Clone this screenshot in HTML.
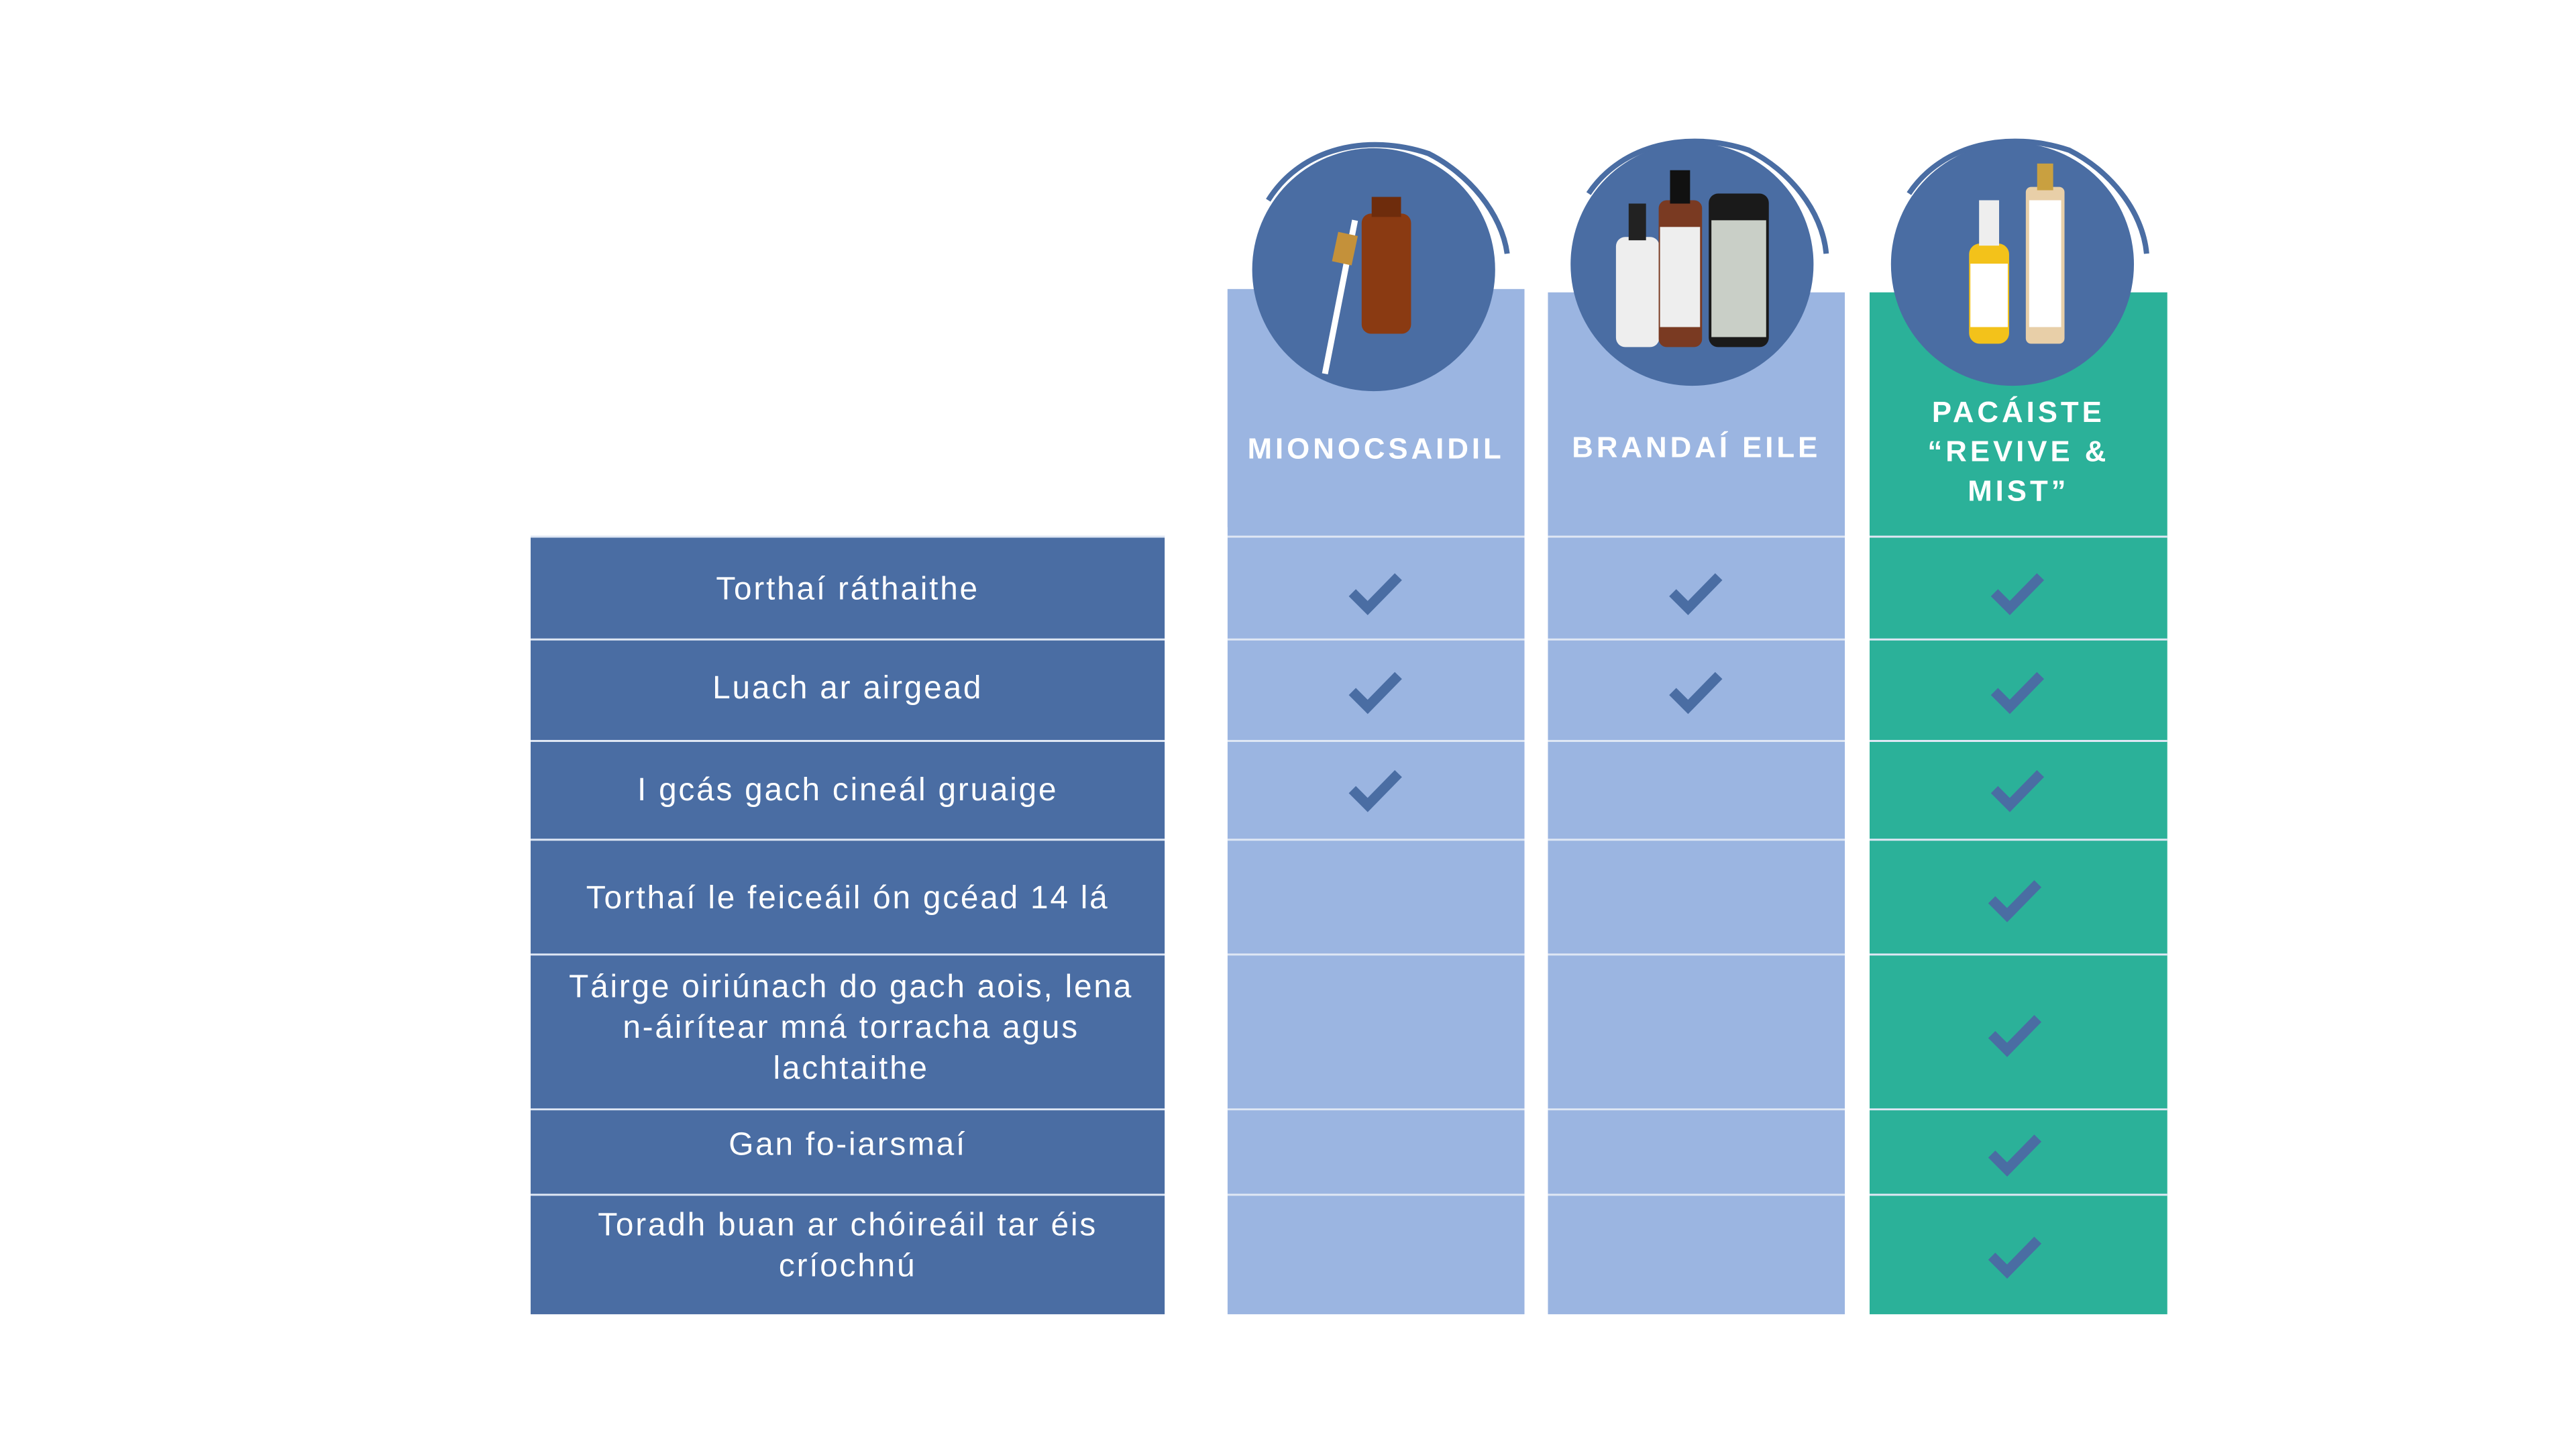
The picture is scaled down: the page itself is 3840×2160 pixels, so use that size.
<!DOCTYPE html>
<html><head><meta charset="utf-8"><style>
html,body{margin:0;padding:0;width:3840px;height:2160px;background:#fff;overflow:hidden;position:relative;font-family:"Liberation Sans",sans-serif}
#w{position:absolute;left:0;top:0;width:3840px;height:2160px;transform:scale(0.995);transform-origin:0 0}
.a{position:absolute}
.t{position:absolute;color:#fff;text-align:center;font-size:48px;letter-spacing:2.8px;line-height:61px;white-space:nowrap}
.h{position:absolute;color:#fff;text-align:center;font-size:44px;font-weight:bold;letter-spacing:5px;line-height:59px;white-space:nowrap}
</style></head><body><div id="w">
<div class="a" style="left:795px;top:805px;width:950px;height:1164px;background:#4a6da3"></div>
<div class="a" style="left:1839px;top:433px;width:445px;height:1536px;background:#9bb5e1"></div>
<div class="a" style="left:2319px;top:438px;width:445px;height:1531px;background:#9bb5e1"></div>
<div class="a" style="left:2801px;top:438px;width:446px;height:1531px;background:#2bb199"></div>
<svg class="a" style="left:0;top:0" width="3840" height="2160">
<g stroke="#dfe7f4" stroke-width="3">
<line x1="795" y1="804" x2="3247" y2="804"/>
<line x1="795" y1="958" x2="3247" y2="958"/>
<line x1="795" y1="1110" x2="3247" y2="1110"/>
<line x1="795" y1="1258" x2="3247" y2="1258"/>
<line x1="795" y1="1430" x2="3247" y2="1430"/>
<line x1="795" y1="1662" x2="3247" y2="1662"/>
<line x1="795" y1="1790" x2="3247" y2="1790"/>
</g>
<rect x="1745" y="790" width="94" height="1200" fill="#fff"/>
<rect x="2284" y="420" width="35" height="1570" fill="#fff"/>
<rect x="2764" y="420" width="37" height="1570" fill="#fff"/>
<g fill="#4a6da3" stroke="#4a6da3">
<circle cx="2058" cy="404" r="182" stroke="none"/>
<path d="M1900 300 C1950 220 2050 200 2140 230 C2200 260 2250 320 2258 380" fill="none" stroke-width="8"/>
<circle cx="2535" cy="396" r="182" stroke="none"/>
<path d="M2380 290 C2430 215 2530 195 2620 225 C2680 255 2730 315 2736 380" fill="none" stroke-width="8"/>
<circle cx="3015" cy="396" r="182" stroke="none"/>
<path d="M2860 290 C2910 215 3010 195 3100 225 C3160 255 3210 315 3216 380" fill="none" stroke-width="8"/>
</g>
<rect x="2040" y="320" width="74" height="180" rx="14" fill="#8a3a12"/>
<rect x="2055" y="295" width="44" height="30" fill="#6e2c0c"/>
<line x1="2030" y1="330" x2="1985" y2="560" stroke="#fff" stroke-width="9"/>
<rect x="2000" y="350" width="30" height="45" fill="#c4913a" transform="rotate(12 2015 372)"/>
<rect x="2421" y="355" width="65" height="165" rx="14" fill="#eee"/>
<rect x="2440" y="305" width="26" height="55" fill="#222"/>
<rect x="2485" y="300" width="65" height="220" rx="12" fill="#7a3a22"/>
<rect x="2487" y="340" width="60" height="150" fill="#eee"/>
<rect x="2502" y="255" width="30" height="50" fill="#111"/>
<rect x="2560" y="290" width="90" height="230" rx="14" fill="#1a1a1a"/>
<rect x="2564" y="330" width="82" height="175" fill="#c9cfc7"/>
<rect x="2950" y="365" width="60" height="150" rx="16" fill="#f3c21a"/>
<rect x="2952" y="395" width="56" height="95" fill="#fff"/>
<rect x="2965" y="300" width="30" height="68" fill="#eee"/>
<rect x="3035" y="280" width="58" height="235" rx="8" fill="#e8cfa8"/>
<rect x="3040" y="300" width="48" height="190" fill="#fff"/>
<rect x="3052" y="245" width="24" height="40" fill="#c9a040"/>
<g fill="none" stroke="#4a6da3" stroke-width="15" stroke-linecap="butt">
<polyline points="2026,888 2049,911 2095,864"/>
<polyline points="2026,888 2049,911 2095,864" transform="translate(0,148)"/>
<polyline points="2026,888 2049,911 2095,864" transform="translate(0,295)"/>
<polyline points="2026,888 2049,911 2095,864" transform="translate(480,0)"/>
<polyline points="2026,888 2049,911 2095,864" transform="translate(480,148)"/>
<polyline points="2026,888 2049,911 2095,864" transform="translate(962,0)"/>
<polyline points="2026,888 2049,911 2095,864" transform="translate(962,148)"/>
<polyline points="2026,888 2049,911 2095,864" transform="translate(962,295)"/>
<polyline points="2026,888 2049,911 2095,864" transform="translate(958,460)"/>
<polyline points="2026,888 2049,911 2095,864" transform="translate(958,662)"/>
<polyline points="2026,888 2049,911 2095,864" transform="translate(958,841)"/>
<polyline points="2026,888 2049,911 2095,864" transform="translate(958,994)"/>
</g>
</svg>
<div class="h" style="left:1839px;width:445px;top:643px">MIONOCSAIDIL</div>
<div class="h" style="left:2319px;width:445px;top:641px">BRANDAÍ EILE</div>
<div class="h" style="left:2801px;width:446px;top:588px">PACÁISTE<br>“REVIVE &amp;<br>MIST”</div>
<div class="t" style="left:795px;width:950px;top:852px">Torthaí ráthaithe</div>
<div class="t" style="left:795px;width:950px;top:1000px">Luach ar airgead</div>
<div class="t" style="left:795px;width:950px;top:1153px">I gcás gach cineál gruaige</div>
<div class="t" style="left:795px;width:950px;top:1315px">Torthaí le feiceáil ón gcéad 14 lá</div>
<div class="t" style="left:795px;width:960px;top:1448px">Táirge oiriúnach do gach aois, lena<br>n-áirítear mná torracha agus<br>lachtaithe</div>
<div class="t" style="left:795px;width:950px;top:1684px">Gan fo-iarsmaí</div>
<div class="t" style="left:795px;width:950px;top:1805px">Toradh buan ar chóireáil tar éis<br>críochnú</div>
</div></body></html>
